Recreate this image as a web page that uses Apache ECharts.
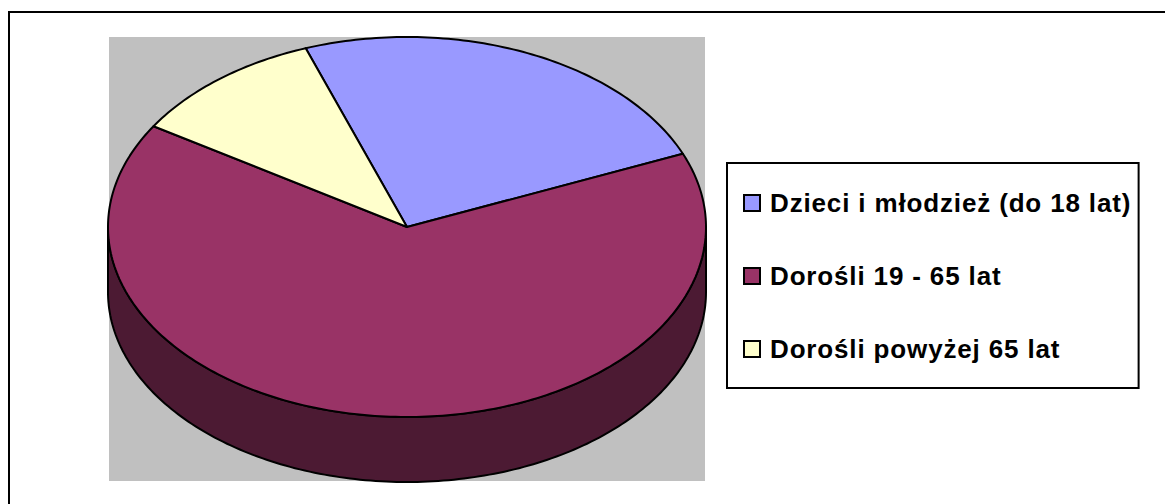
<!DOCTYPE html>
<html>
<head>
<meta charset="utf-8">
<style>
  html, body { margin: 0; padding: 0; background: #fff; }
  #main { width: 1165px; height: 504px; }
  /* legend text in the original is spaced wider than the font */
  #main text { letter-spacing: 0.85px; }
</style>
</head>
<body>
<div id="main"></div>
<script src="https://cdn.jsdelivr.net/npm/echarts@6/dist/echarts.min.js"></script>
<script>
var categories = ['Dzieci i młodzież (do 18 lat)', 'Dorośli 19 - 65 lat', 'Dorośli powyżej 65 lat'];
var values = [24.2, 65.2, 10.6];
var colors = ['#9999FF', '#993366', '#FFFFCC'];
var wallColors = ['#4D4D80', '#4C1A33', '#808066'];

// pie geometry, the library has no tilted pie so it is drawn as a custom series
var cx = 407, cy = 227, rx = 299, ry = 190, depth = 65;
var firstAngle = -19.8;
var total = values.reduce(function (a, b) { return a + b; }, 0);

function pointAt(deg, dy) {
  var r = deg * Math.PI / 180;
  return [cx + rx * Math.sin(r), cy - ry * Math.cos(r) + (dy || 0)];
}

function arc(from, to, dy) {
  var pts = [];
  var n = Math.max(2, Math.ceil(Math.abs(to - from)));
  for (var i = 0; i <= n; i++) {
    pts.push(pointAt(from + (to - from) * i / n, dy));
  }
  return pts;
}

function renderSlice(params, api) {
  var idx = params.seriesIndex;
  var start = firstAngle;
  for (var i = 0; i < idx; i++) start += values[i] / total * 360;
  var end = start + api.value(0) / total * 360;
  var children = [];
  var style = { stroke: '#000', lineWidth: 2, lineJoin: 'round' };

  // only the front half of the rim can be seen
  var wallFrom = Math.max(start, 90), wallTo = Math.min(end, 270);
  if (wallTo > wallFrom) {
    children.push({
      type: 'polygon',
      shape: { points: arc(wallFrom, wallTo, 0).concat(arc(wallTo, wallFrom, depth)) },
      style: Object.assign({ fill: wallColors[idx] }, style)
    });
  }
  children.push({
    type: 'polygon',
    shape: { points: [[cx, cy]].concat(arc(start, end, 0)) },
    style: Object.assign({ fill: colors[idx] }, style)
  });
  return { type: 'group', children: children };
}

var myChart = echarts.init(document.getElementById('main'), null, { renderer: 'svg' });

var option = {
  animation: false,
  backgroundColor: '#fff',
  graphic: [
    { type: 'rect', z: 0, shape: { x: 109, y: 37, width: 596, height: 444 }, style: { fill: '#C0C0C0' } },
    { type: 'line', z: 0, shape: { x1: 9, y1: 12, x2: 1165, y2: 12 }, style: { stroke: '#000', lineWidth: 2 } },
    { type: 'line', z: 0, shape: { x1: 9, y1: 11, x2: 9, y2: 504 }, style: { stroke: '#000', lineWidth: 2 } }
  ],
  legend: {
    orient: 'vertical',
    left: 727,
    top: 163,
    padding: [27, 32, 26, 16],
    itemGap: 47,
    itemWidth: 16,
    itemHeight: 16,
    icon: 'rect',
    backgroundColor: '#fff',
    borderColor: '#000',
    borderWidth: 2,
    borderRadius: 0,
    itemStyle: { borderColor: '#000', borderWidth: 2 },
    selectedMode: false,
    data: categories,
    textStyle: {
      fontFamily: 'Liberation Sans',
      fontWeight: 'bold',
      fontSize: 26,
      color: '#000',
      padding: [0, 0, 0, 5]
    }
  },
  series: categories.map(function (name, i) {
    return {
      type: 'custom',
      name: name,
      coordinateSystem: 'none',
      clip: false,
      silent: true,
      itemStyle: { color: colors[i] },
      data: [[values[i]]],
      renderItem: renderSlice
    };
  })
};

myChart.setOption(option);
</script>
</body>
</html>
